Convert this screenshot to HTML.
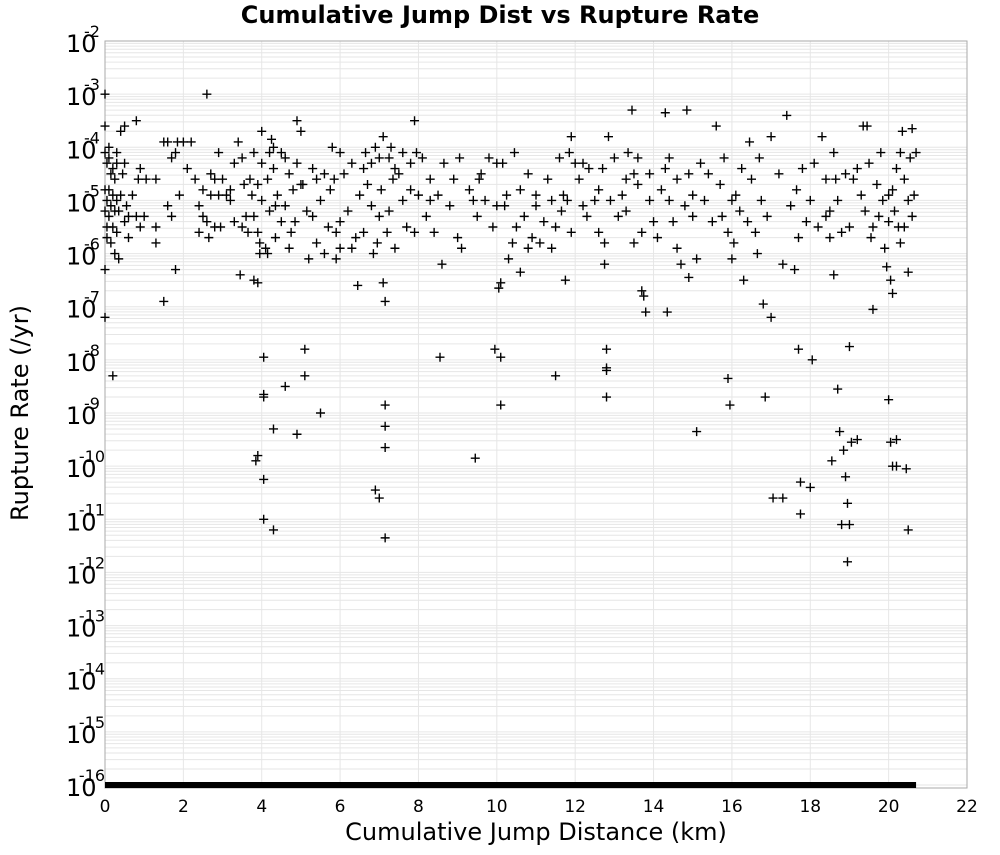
<!DOCTYPE html>
<html><head><meta charset="utf-8"><style>
body{margin:0;background:#fff;}
svg text{font-family:"DejaVu Sans","Liberation Sans",sans-serif;}
</style></head><body>
<svg id="chart" width="1000" height="850" xmlns="http://www.w3.org/2000/svg">
<text x="500" y="23" text-anchor="middle" font-size="24" font-weight="bold">Cumulative Jump Dist vs Rupture Rate</text>
<g id="grid"></g>
<g id="axes"></g>
<g id="pts"></g>
<text x="536" y="840" text-anchor="middle" font-size="24">Cumulative Jump Distance (km)</text>
<text transform="translate(28,413) rotate(-90)" text-anchor="middle" font-size="24">Rupture Rate (/yr)</text>
</svg>
<script>
const xTicks=[0,2,4,6,8,10,12,14,16,18,20,22];
const yExps=[-2,-3,-4,-5,-6,-7,-8,-9,-10,-11,-12,-13,-14,-15,-16];
const floorRange=[0,20.7];
const xs=[0,0,0,0.05,0.1,0.15,0.2,0.25,0.3,0.1,0.2,0.05,0.15,0.3,0.35,0.4,0.1,0.2,0.3,0.05,0.15,0.25,0,0,0.4,0.5,0.8,0.35,0.5,0.6,0.7,0.5,0.6,0.8,0.9,0.9,0.85,0.2,0.45,0.55,0,0,0.05,0.25,0.1,0.3,
1.05,1.0,1.3,1.3,1.3,1.5,1.5,1.6,1.7,1.7,1.8,1.8,1.9,1.6,1.85,
2.0,2.1,2.2,2.3,2.4,2.5,2.4,2.6,2.6,2.7,2.7,2.8,2.8,2.65,2.9,2.9,2.5,2.95,
3.0,3.1,3.2,3.3,3.3,3.4,3.45,3.5,3.55,3.6,3.65,3.7,3.75,3.8,3.8,3.9,3.9,3.95,3.9,4.0,4.0,4.0,3.85,3.9,3.95,3.5,3.2,3.8,
4.05,4.05,4.05,4.05,4.05,4.1,4.15,4.2,4.25,4.3,4.3,4.35,4.35,4.3,4.3,4.4,4.5,4.6,4.6,4.7,4.7,4.8,4.85,4.9,4.9,4.9,5.0,5.0,4.75,4.6,4.2,4.15,4.5,
5.05,5.1,5.1,5.15,5.2,5.3,5.4,5.4,5.5,5.5,5.6,5.6,5.7,5.75,5.8,5.85,5.9,6.0,6.0,6.0,5.9,5.3,
6.1,6.2,6.3,6.4,6.45,6.5,6.6,6.6,6.7,6.8,6.85,6.9,6.9,7.0,7.0,7.0,6.8,6.95,6.3,6.65,
7.05,7.1,7.1,7.15,7.15,7.15,7.15,7.15,7.2,7.25,7.3,7.35,7.4,7.5,7.6,7.6,7.7,7.8,7.8,7.9,7.9,7.95,8.0,7.25,7.4,
8.1,8.2,8.3,8.4,8.5,8.55,8.6,8.65,8.8,8.9,9.0,9.05,8.3,
9.1,9.3,9.4,9.45,9.5,9.6,9.7,9.8,9.9,10.0,10.0,9.95,9.55,
10.05,10.1,10.1,10.1,10.15,10.2,10.3,10.4,10.5,10.6,10.6,10.7,10.8,10.9,11.0,11.0,10.8,10.25,10.45,
11.1,11.2,11.3,11.4,11.5,11.5,11.6,11.7,11.75,11.8,11.9,11.9,12.0,11.85,11.65,11.4,
12.1,12.2,12.3,12.35,12.5,12.6,12.7,12.75,12.75,12.8,12.8,12.8,12.8,12.85,12.9,13.0,12.6,12.2,
13.1,13.2,13.3,13.35,13.45,13.5,13.5,13.6,13.7,13.7,13.75,13.8,13.9,14.0,13.9,13.6,13.3,
14.1,14.2,14.3,14.3,14.35,14.4,14.5,14.6,14.7,14.8,14.85,14.9,14.9,15.0,15.0,15.1,15.1,14.6,14.4,
15.2,15.3,15.5,15.6,15.7,15.8,15.9,15.9,15.95,16.0,16.0,15.4,15.75,
16.05,16.1,16.2,16.25,16.3,16.4,16.5,16.6,16.65,16.7,16.75,16.8,16.85,16.9,17.0,17.0,17.05,16.45,
17.2,17.3,17.4,17.5,17.6,17.7,17.7,17.75,17.75,17.8,18.0,18.0,18.05,17.65,17.9,17.3,
18.1,18.2,18.3,18.4,18.5,18.55,18.6,18.6,18.7,18.7,18.75,18.8,18.85,18.9,18.9,18.95,18.95,19.0,19.0,19.0,18.8,18.65,18.5,18.4,19.05,
19.1,19.2,19.3,19.35,19.4,19.45,19.5,19.6,19.6,19.7,19.8,19.85,19.9,20.0,20.0,20.05,19.2,19.55,19.75,19.95,
20.05,20.1,20.1,20.2,20.2,20.1,20.15,20.2,20.25,20.3,20.3,20.35,20.4,20.45,20.5,20.5,20.5,20.55,20.6,20.6,20.65,20.7,20.4,20.0];
const logRates=[-3,-3.6,-4.1,-4.3,-4.2,-4.5,-4.4,-4.6,-4.3,-4.8,-4.9,-5,-5.1,-5,-5.2,-4.9,-5.3,-5.5,-5.6,-5.7,-5.8,-6,-6.3,-7.2,-3.7,-3.6,-3.5,-6.1,-5.4,-5.3,-4.9,-4.3,-5.7,-5.3,-5.5,-4.4,-4.6,-8.3,-4.5,-5.1,-5.2,-4.8,-5.5,-5.2,-4.0,-4.1,
-4.6,-5.3,-4.6,-5.5,-5.8,-6.9,-3.9,-5.1,-5.3,-4.2,-6.3,-4.1,-4.9,-3.9,-3.9,
-3.9,-4.4,-3.9,-4.6,-5.1,-5.3,-5.6,-3.0,-5.4,-4.5,-4.9,-5.5,-4.6,-5.7,-4.1,-4.9,-4.8,-5.5,
-4.6,-4.9,-5.0,-4.3,-5.4,-3.9,-6.4,-4.2,-4.7,-5.3,-5.6,-4.6,-4.9,-5.3,-6.5,-4.7,-5.6,-6.0,-6.55,-3.7,-4.3,-5.0,-9.9,-9.8,-5.8,-5.5,-4.8,-4.1,
-7.95,-8.65,-8.7,-10.25,-11.0,-5.9,-4.6,-4.1,-3.85,-4.0,-4.4,-5.1,-5.7,-9.3,-11.2,-4.9,-5.4,-4.2,-8.5,-4.5,-5.9,-4.8,-5.4,-3.5,-4.3,-9.4,-3.7,-4.7,-5.6,-5.1,-5.2,-6.0,-4.1,
-4.7,-7.8,-8.3,-5.2,-6.1,-4.4,-4.6,-5.8,-5.0,-9.0,-4.5,-6.0,-5.5,-4.8,-4.0,-4.6,-5.6,-4.1,-5.4,-5.9,-6.1,-5.3,
-4.5,-5.2,-4.3,-5.7,-6.6,-4.9,-4.4,-5.6,-4.7,-5.1,-6.0,-4.0,-10.45,-4.2,-5.3,-10.6,-4.3,-5.8,-5.9,-4.1,
-4.8,-3.8,-6.55,-6.9,-8.85,-9.25,-9.65,-11.35,-5.6,-5.2,-4.0,-4.6,-5.9,-4.5,-5.0,-4.1,-5.5,-4.3,-4.8,-3.5,-5.6,-4.1,-4.9,-4.2,-4.4,
-4.2,-5.3,-4.6,-5.6,-4.9,-7.95,-6.2,-4.3,-5.1,-4.6,-5.7,-4.2,-5.0,
-5.9,-4.8,-5.0,-9.85,-5.3,-4.5,-5.0,-4.2,-5.5,-4.3,-5.1,-7.8,-4.6,
-6.65,-6.55,-7.95,-8.85,-4.3,-5.1,-6.1,-5.8,-5.5,-4.8,-6.35,-5.3,-4.5,-5.7,-4.9,-5.1,-5.9,-4.9,-4.1,
-5.8,-5.4,-4.6,-5.9,-5.5,-8.3,-4.2,-4.9,-6.5,-5.0,-3.8,-5.6,-4.3,-4.1,-5.2,-5.0,
-4.6,-5.1,-5.3,-4.4,-5.0,-5.6,-4.4,-5.8,-6.2,-7.8,-8.15,-8.2,-8.7,-3.8,-5.0,-4.2,-4.8,-4.3,
-5.3,-4.9,-5.2,-4.1,-3.3,-4.5,-5.8,-4.7,-5.6,-6.7,-6.8,-7.1,-4.5,-5.4,-5.0,-4.2,-4.6,
-5.7,-4.8,-3.35,-4.4,-7.1,-5.0,-5.4,-4.6,-6.2,-5.1,-3.3,-4.5,-6.45,-5.3,-4.9,-6.1,-9.35,-5.9,-4.2,
-4.3,-5.0,-5.4,-3.6,-4.7,-4.2,-5.6,-8.35,-8.85,-6.1,-5.0,-4.5,-5.3,
-5.8,-4.9,-5.2,-4.4,-6.5,-5.4,-4.6,-5.6,-6.0,-4.2,-5.0,-6.95,-8.7,-5.3,-3.8,-7.2,-10.6,-3.9,
-4.5,-10.6,-3.4,-5.1,-6.3,-5.7,-7.8,-10.3,-10.9,-4.4,-5.0,-10.4,-8.0,-4.8,-5.4,-6.2,
-4.3,-5.5,-3.8,-4.6,-5.2,-9.9,-6.4,-4.1,-5.0,-8.55,-9.35,-11.1,-9.7,-4.5,-10.2,-10.7,-11.8,-7.75,-11.1,-5.5,-5.6,-4.6,-5.7,-5.3,-9.55,
-4.6,-9.5,-4.9,-3.6,-5.2,-3.6,-4.3,-7.05,-5.5,-4.7,-4.1,-5.0,-5.9,-5.4,-8.75,-9.55,-4.4,-5.7,-5.3,-6.25,
-6.5,-6.75,-10.0,-10.0,-9.5,-4.8,-5.2,-4.4,-5.5,-4.1,-5.8,-3.7,-4.6,-10.05,-5.0,-6.35,-11.2,-4.2,-3.65,-5.3,-4.9,-4.1,-5.5,-4.9];

const L=105,R=967,T=41,B=785;
const xMin=0,xMax=22,yTop=-2,yBot=-16;
function sx(v){return L+(v-xMin)/(xMax-xMin)*(R-L);}
function sy(e){return T+(yTop-e)/(yTop-yBot)*(B-T);}
const NS="http://www.w3.org/2000/svg";
function mk(tag,attrs,parent){const e=document.createElementNS(NS,tag);for(const k in attrs)e.setAttribute(k,attrs[k]);parent.appendChild(e);return e;}
const grid=document.getElementById('grid'),axes=document.getElementById('axes'),pts=document.getElementById('pts');
for(let n=-16;n<-2;n++){for(let k=1;k<10;k++){const y=sy(n+Math.log10(k));
const l=mk('line',{x1:L,x2:R,y1:y,y2:y,stroke:'#e6e6e6','stroke-width':1},grid);

}}
xTicks.forEach(t=>{const x=sx(t);
const l=mk('line',{x1:x,x2:x,y1:T,y2:B+3,stroke:'#e6e6e6','stroke-width':1},grid);


const tx=mk('text',{x:x,y:812,'text-anchor':'middle','font-size':17},axes);tx.textContent=t;

});
const fr=mk('rect',{x:L,y:T,width:R-L,height:B+3-T,fill:'none',stroke:'#aaa','stroke-width':1},axes);


yExps.forEach(e=>{const y=sy(e);
const t=mk('text',{x:66,y:y+11,'font-size':24},axes);t.textContent='10';


const s=mk('text',{x:92,y:y-4,'font-size':16,'text-anchor':'middle'},axes);s.textContent=e;

});
for(let i=0;i<xs.length;i++){const x=sx(xs[i]),y=sy(logRates[i]);
const p=mk('path',{d:`M${x-4.5} ${y}H${x+4.5}M${x} ${y-4.5}V${y+4.5}`,stroke:'#000','stroke-width':1.4,fill:'none'},pts);

}
const fl=mk('rect',{x:sx(floorRange[0]),y:sy(-16)-3,width:sx(floorRange[1])-sx(floorRange[0]),height:6,fill:'#000'},pts);


</script>
</body></html>
